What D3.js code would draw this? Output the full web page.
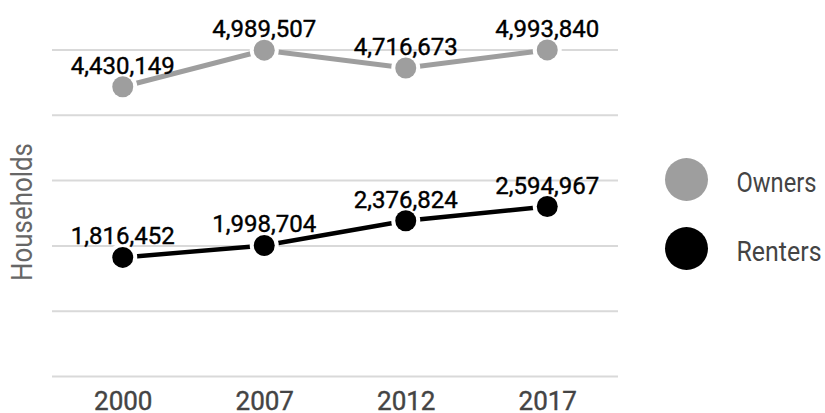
<!DOCTYPE html>
<html>
<head>
<meta charset="utf-8">
<script src="https://cdn.jsdelivr.net/npm/d3@7"></script>
<style>
  html, body { margin: 0; padding: 0; background: #fff; }
  svg { display: block; font-family: Roboto, "Noto Sans", sans-serif; }
</style>
</head>
<body>
<svg id="chart" width="825" height="413"></svg>
<script>
const years = ["2000", "2007", "2012", "2017"];
const owners = [4430149, 4989507, 4716673, 4993840];
const renters = [1816452, 1998704, 2376824, 2594967];
const seriesNames = ["Owners", "Renters"];
const yTicks = [0, 1000000, 2000000, 3000000, 4000000, 5000000];
const yTitle = "Households";

const series = [
  { name: seriesNames[0], values: owners, color: "#9e9e9e", width: 5, legendLen: 80 },
  { name: seriesNames[1], values: renters, color: "#000000", width: 4.5, legendLen: 85 }
];

const svg = d3.select("#chart");
const plot = { left: 52, right: 618, top: 49.5, bottom: 376 };

const x = d3.scalePoint().domain(years).range([plot.left, plot.right]).padding(0.5);
const y = d3.scaleLinear().domain([0, 5000000]).range([plot.bottom, plot.top]);

// gridlines
const yAxis = d3.axisLeft(y).tickValues(yTicks).tickSize(-(plot.right - plot.left)).tickFormat("");
const gy = svg.append("g").attr("transform", `translate(${plot.left},0)`).call(yAxis);
gy.select(".domain").remove();
gy.selectAll(".tick line").attr("stroke", "#d9d9d9").attr("stroke-width", 2);

// x axis labels
const xAxis = d3.axisBottom(x).tickSize(0).tickPadding(0);
const gx = svg.append("g").attr("transform", `translate(0,${plot.bottom})`).call(xAxis);
gx.select(".domain").remove();
gx.selectAll(".tick text")
  .attr("dy", null).attr("y", 34)
  .attr("font-family", "Roboto").attr("font-size", 26).attr("fill", "#444")
  .attr("stroke", "#444").attr("stroke-width", 0.4);

// y title
svg.append("text")
  .attr("transform", `translate(31.5,212) rotate(-90)`)
  .attr("text-anchor", "middle")
  .attr("font-size", 29).attr("fill", "#666")
  .attr("textLength", 138).attr("lengthAdjust", "spacingAndGlyphs")
  .text(yTitle);

const line = d3.line().x((d, i) => x(years[i])).y(d => y(d));

series.forEach(s => {
  const g = svg.append("g");
  g.append("path").datum(s.values).attr("d", line)
    .attr("fill", "none").attr("stroke", s.color).attr("stroke-width", s.width);
  g.selectAll("circle.halo").data(s.values).join("circle").attr("class", "halo")
    .attr("cx", (d, i) => x(years[i])).attr("cy", d => y(d)).attr("r", 14.5).attr("fill", "#fff");
  g.selectAll("circle.pt").data(s.values).join("circle").attr("class", "pt")
    .attr("cx", (d, i) => x(years[i])).attr("cy", d => y(d)).attr("r", 10.5).attr("fill", s.color);
});

const fmt = d3.format(",");
series.forEach(s => {
  svg.append("g").selectAll("text").data(s.values).join("text")
    .attr("x", (d, i) => x(years[i])).attr("y", d => y(d) - 13)
    .attr("text-anchor", "middle").attr("font-size", 24).attr("fill", "#000")
    .attr("stroke", "#000").attr("stroke-width", 0.4)
    .text(d => fmt(d));
});

// legend
const leg = svg.append("g");
series.forEach((s, i) => {
  const cy = 179.5 + i * 69;
  leg.append("circle").attr("cx", 686.5).attr("cy", cy).attr("r", 21.5).attr("fill", s.color);
  leg.append("text").attr("x", 736.5).attr("y", cy + 12.5)
    .attr("font-size", 28.5).attr("fill", "#444")
    .attr("textLength", s.legendLen).attr("lengthAdjust", "spacingAndGlyphs")
    .text(s.name);
});
</script>
</body>
</html>
